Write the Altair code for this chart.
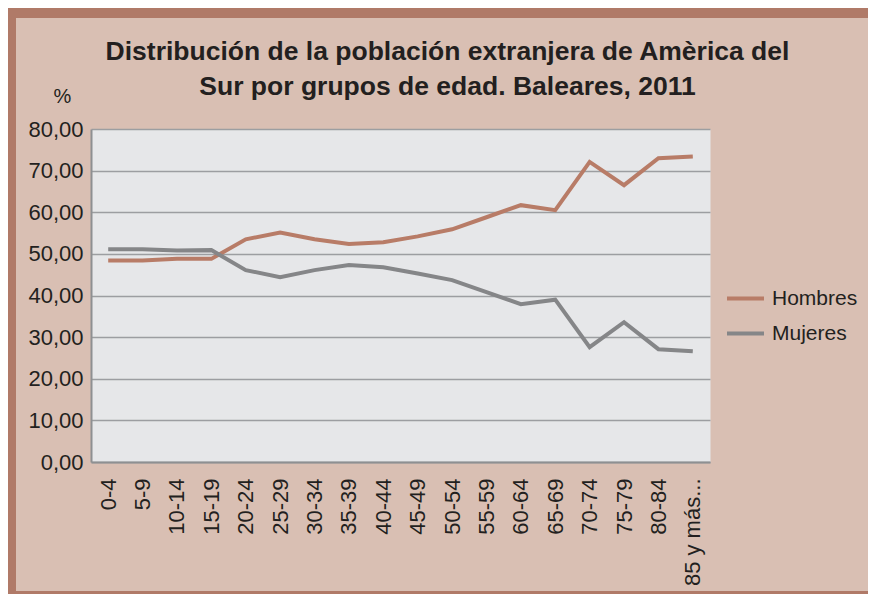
import altair as alt
import pandas as pd

ages = ["0-4", "5-9", "10-14", "15-19", "20-24", "25-29", "30-34", "35-39", "40-44",
        "45-49", "50-54", "55-59", "60-64", "65-69", "70-74", "75-79", "80-84", "85 y más..."]
hombres = [48.4, 48.4, 48.8, 48.8, 53.5, 55.1, 53.5, 52.4, 52.8,
           54.2, 55.9, 58.8, 61.7, 60.5, 72.1, 66.5, 73.0, 73.4]
mujeres = [51.1, 51.1, 50.8, 50.9, 46.1, 44.4, 46.1, 47.3, 46.8,
           45.3, 43.7, 40.8, 37.9, 39.0, 27.6, 33.6, 27.1, 26.6]
series = ["Hombres", "Mujeres"]
colors = ["#b87c67", "#858688"]
title_lines = ["Distribución de la población extranjera de Amèrica del",
               "Sur por grupos de edad. Baleares, 2011"]

rows = []
for i, a in enumerate(ages):
    rows.append({"edad": a, "serie": "Hombres", "valor": hombres[i], "orden": i})
    rows.append({"edad": a, "serie": "Mujeres", "valor": mujeres[i], "orden": i})
df = pd.DataFrame(rows)

FONT = "Liberation Sans"
TXT = "#231f20"
BROWN = "#b07a68"

lines = alt.Chart(df).mark_line(strokeWidth=4, strokeCap="butt", strokeJoin="miter").encode(
    x=alt.X("edad:N", sort=ages,
            scale=alt.Scale(type="point", padding=0.5),
            axis=alt.Axis(title=None, labelAngle=270, labelFontSize=22, labelFont=FONT,
                          labelColor=TXT, labelPadding=16, ticks=False, grid=False,
                          domainColor="#8e9092", domainWidth=2, labelOverlap=False)),
    y=alt.Y("valor:Q",
            scale=alt.Scale(domain=[0, 80], nice=False, zero=True),
            axis=alt.Axis(title="%", titleAngle=0, titleX=-29, titleY=-33,
                          titleAlign="center", titleBaseline="middle",
                          titleFontSize=20, titleFont=FONT, titleFontWeight="normal",
                          titleColor=TXT,
                          values=[0, 10, 20, 30, 40, 50, 60, 70, 80],
                          labelExpr="replace(format(datum.value, '.2f'), '.', ',')",
                          labelFontSize=22, labelFont=FONT, labelColor=TXT, labelPadding=8,
                          ticks=False, grid=True, gridColor="#9c9ea1", gridWidth=1.5,
                          domainColor="#8e9092", domainWidth=2)),
    color=alt.Color("serie:N",
                    scale=alt.Scale(domain=series, range=colors),
                    legend=alt.Legend(title=None, orient="none", legendX=634, legendY=149,
                                      symbolType="stroke", symbolSize=1369,
                                      symbolStrokeWidth=4, labelFontSize=21,
                                      labelFont=FONT, labelColor=TXT, labelOffset=6,
                                      rowPadding=4)),
    order="orden:Q",
)

frame = alt.Data(values=[{}])
top_b = alt.Chart(frame).mark_rect(color=BROWN).encode(
    x=alt.value(-83), x2=alt.value(777), y=alt.value(-121), y2=alt.value(-111))
left_b = alt.Chart(frame).mark_rect(color=BROWN).encode(
    x=alt.value(-83), x2=alt.value(-75), y=alt.value(-121), y2=alt.value(465))
bot_b = alt.Chart(frame).mark_rect(color=BROWN).encode(
    x=alt.value(-83), x2=alt.value(777), y=alt.value(462), y2=alt.value(465))

chart = alt.layer(top_b, left_b, bot_b, lines).properties(
    width=619, height=333,
    title=alt.TitleParams(text=title_lines, fontSize=26.5, font=FONT, fontWeight="bold",
                          color=TXT, anchor="middle", frame="group", dx=47, dy=92,
                          lineHeight=35, offset=0),
    autosize=alt.AutoSizeParams(type="none"),
    padding={"left": 83, "top": 121, "right": 158, "bottom": 132},
).configure(background="#d9bfb3").configure_view(fill="#e6e7e9", stroke="transparent")

chart.save("out.html", embed_options={"renderer": "svg", "actions": False})
